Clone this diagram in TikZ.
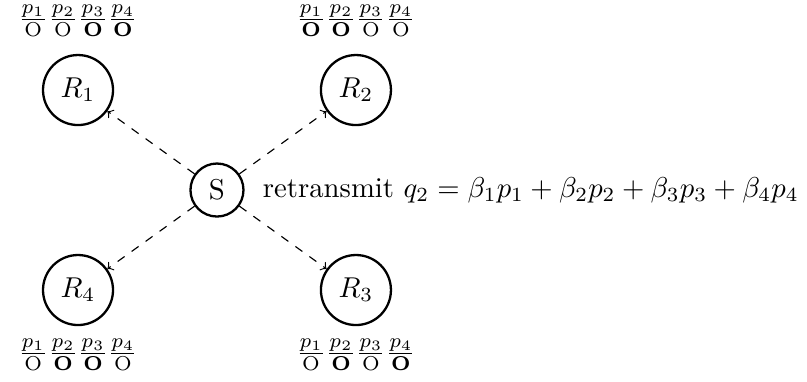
\documentclass[tikz,border=0pt]{standalone}
\usepackage{amsmath, amssymb, bm}
\usetikzlibrary{positioning}

\begin{document}
\begin{tikzpicture}[
        relay/.style={circle, draw, thick, minimum size=0.857cm, inner sep=0pt},
        source/.style={circle, draw, thick, minimum size=0.649cm, inner sep=0pt},
        link/.style={->, dashed}
    ]
        \useasboundingbox (-2.656,-2.338) rectangle (7.222,2.326);

        % Draw nodes
        \node[source] (s) at (0,0) {S};
        \node[relay] (r1) at (-1.701,1.224) {$R_1$};
        \node[relay] (r2) at (1.701,1.224) {$R_2$};
        \node[relay] (r3) at (1.701,-1.224) {$R_3$};
        \node[relay] (r4) at (-1.701,-1.224) {$R_4$};

        % Draw connections
        \draw[link] (s) -- (r1);
        \draw[link] (s) -- (r2);
        \draw[link] (s) -- (r3);
        \draw[link] (s) -- (r4);

        % Labels
        \node[above=2.5pt of r1] (l1) {$\frac{p_1}{\mathrm{O}}\frac{p_2}{\mathrm{O}}\frac{p_3}{\mathbf{O}}\frac{p_4}{\mathbf{O}}$};
        \node[above=2.5pt of r2] (l2) {$\frac{p_1}{\mathbf{O}}\frac{p_2}{\mathbf{O}}\frac{p_3}{\mathrm{O}}\frac{p_4}{\mathrm{O}}$};
        \node[below=1pt of r3] (l3) {$\frac{p_1}{\mathrm{O}}\frac{p_2}{\mathbf{O}}\frac{p_3}{\mathrm{O}}\frac{p_4}{\mathbf{O}}$};
        \node[below=1pt of r4] (l4) {$\frac{p_1}{\mathrm{O}}\frac{p_2}{\mathbf{O}}\frac{p_3}{\mathbf{O}}\frac{p_4}{\mathrm{O}}$};
        \node[right=0.1cm of s] (msg) {retransmit $q_2 = \beta_1 p_1 + \beta_2 p_2 + \beta_3 p_3 + \beta_4 p_4$};
    \end{tikzpicture}
\end{document}
